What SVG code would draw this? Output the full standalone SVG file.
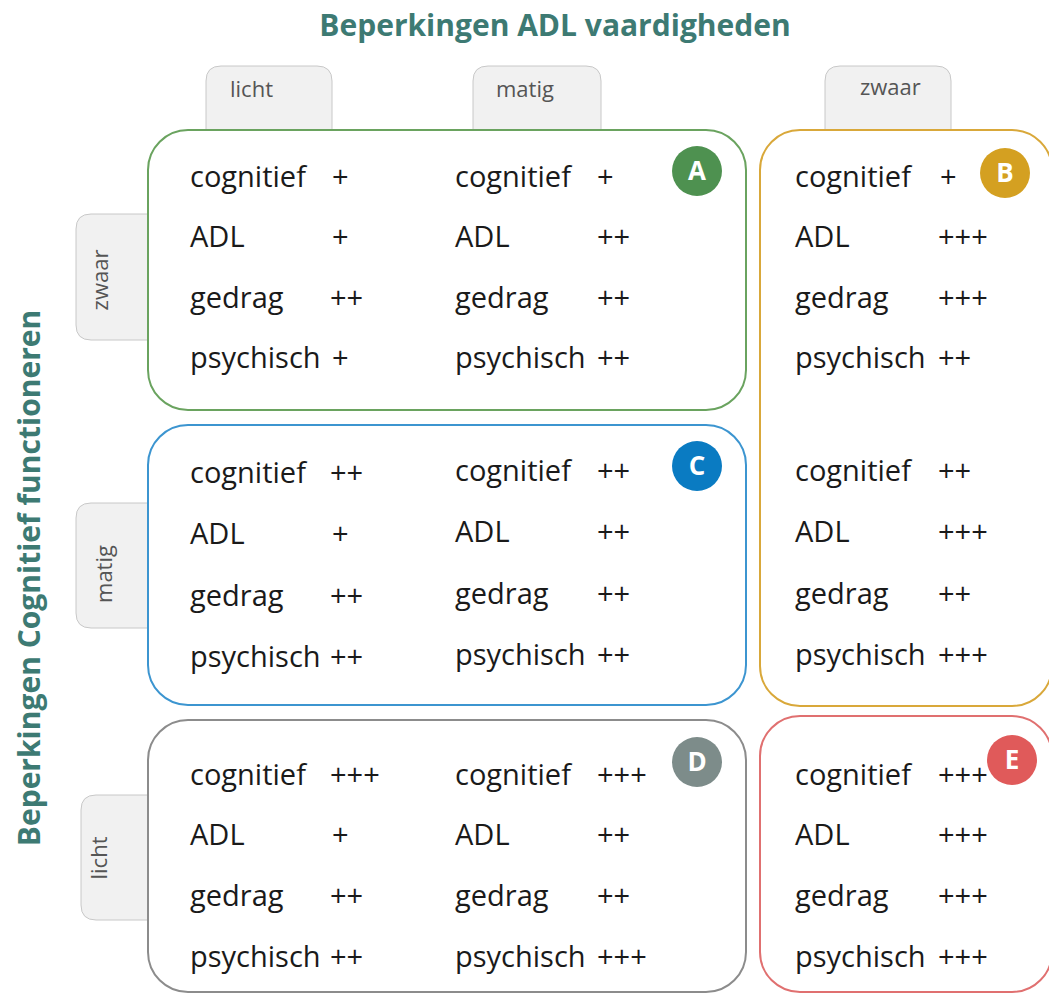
<svg xmlns="http://www.w3.org/2000/svg" width="1049" height="994" viewBox="0 0 1049 994">
<style>
.title{font-family:"Open Sans","Noto Sans",sans-serif;font-weight:bold;font-size:30px;fill:#3d7a73}
.tab{fill:#f1f1f1;stroke:#c8c8c8;stroke-width:1}
.tabt{font-family:"Open Sans","Noto Sans",sans-serif;font-size:22px;fill:#555}
.box{fill:#fff;stroke-width:2}
.t{font-family:"Open Sans","Noto Sans",sans-serif;font-size:29px;fill:#1a1a1a}
.bt{font-family:"Open Sans","Noto Sans",sans-serif;font-weight:bold;font-size:26px;fill:#fff;text-anchor:middle}
</style>
<rect width="1049" height="994" fill="#fff"/>
<text class="title" x="555" y="36" text-anchor="middle">Beperkingen ADL vaardigheden</text>
<text class="title" transform="translate(40 578) rotate(-90)" text-anchor="middle">Beperkingen Cognitief functioneren</text>

<g id="tab-top-licht"><path class="tab" d="M206 132 V81 Q206 66 221 66 H317 Q332 66 332 81 V132"/><text class="tabt" x="230" y="97">licht</text></g>
<g id="tab-top-matig"><path class="tab" d="M473 132 V81 Q473 66 488 66 H586 Q601 66 601 81 V132"/><text class="tabt" x="496" y="97">matig</text></g>
<g id="tab-top-zwaar"><path class="tab" d="M825 132 V81 Q825 66 840 66 H936 Q951 66 951 81 V132"/><text class="tabt" x="860" y="95">zwaar</text></g>
<g id="tab-side-zwaar"><path class="tab" d="M150 214 H91 Q76 214 76 229 V325 Q76 340 91 340 H150"/><text class="tabt" transform="translate(108 280) rotate(-90)" text-anchor="middle">zwaar</text></g>
<g id="tab-side-matig"><path class="tab" d="M150 503 H91 Q76 503 76 518 V613 Q76 628 91 628 H150"/><text class="tabt" transform="translate(112 574) rotate(-90)" text-anchor="middle">matig</text></g>
<g id="tab-side-licht"><path class="tab" d="M150 795 H96 Q81 795 81 810 V905 Q81 920 96 920 H150"/><text class="tabt" transform="translate(107 858) rotate(-90)" text-anchor="middle">licht</text></g>

<g id="box-A">
<rect class="box" x="148" y="130" width="598" height="280" rx="40" stroke="#6aa35f"/>
<circle cx="697" cy="171" r="25" fill="#4e9150"/><text class="bt" x="697" y="180">A</text>
<text class="t" x="190" y="187">cognitief</text><text class="t" x="332" y="187">+</text>
<text class="t" x="190" y="247">ADL</text><text class="t" x="332" y="247">+</text>
<text class="t" x="190" y="308">gedrag</text><text class="t" x="330" y="308">++</text>
<text class="t" x="190" y="368">psychisch</text><text class="t" x="332" y="368">+</text>
<text class="t" x="455" y="187">cognitief</text><text class="t" x="597" y="187">+</text>
<text class="t" x="455" y="247">ADL</text><text class="t" x="597" y="247">++</text>
<text class="t" x="455" y="308">gedrag</text><text class="t" x="597" y="308">++</text>
<text class="t" x="455" y="368">psychisch</text><text class="t" x="597" y="368">++</text>
</g>

<g id="box-C">
<rect class="box" x="148" y="425" width="598" height="280" rx="40" stroke="#3c95d0"/>
<circle cx="697" cy="466" r="25" fill="#0a7bc2"/><text class="bt" x="697" y="475">C</text>
<text class="t" x="190" y="483">cognitief</text><text class="t" x="330" y="483">++</text>
<text class="t" x="190" y="544">ADL</text><text class="t" x="332" y="544">+</text>
<text class="t" x="190" y="606">gedrag</text><text class="t" x="330" y="606">++</text>
<text class="t" x="190" y="667">psychisch</text><text class="t" x="330" y="667">++</text>
<text class="t" x="455" y="481">cognitief</text><text class="t" x="597" y="481">++</text>
<text class="t" x="455" y="542">ADL</text><text class="t" x="597" y="542">++</text>
<text class="t" x="455" y="604">gedrag</text><text class="t" x="597" y="604">++</text>
<text class="t" x="455" y="665">psychisch</text><text class="t" x="597" y="665">++</text>
</g>

<g id="box-D">
<rect class="box" x="148" y="720" width="598" height="272" rx="40" stroke="#8c8c8c"/>
<circle cx="697" cy="762" r="25" fill="#7d8c8a"/><text class="bt" x="697" y="771">D</text>
<text class="t" x="190" y="785">cognitief</text><text class="t" x="330" y="785">+++</text>
<text class="t" x="190" y="845">ADL</text><text class="t" x="332" y="845">+</text>
<text class="t" x="190" y="906">gedrag</text><text class="t" x="330" y="906">++</text>
<text class="t" x="190" y="967">psychisch</text><text class="t" x="330" y="967">++</text>
<text class="t" x="455" y="785">cognitief</text><text class="t" x="597" y="785">+++</text>
<text class="t" x="455" y="845">ADL</text><text class="t" x="597" y="845">++</text>
<text class="t" x="455" y="906">gedrag</text><text class="t" x="597" y="906">++</text>
<text class="t" x="455" y="967">psychisch</text><text class="t" x="597" y="967">+++</text>
</g>

<g id="box-B">
<rect class="box" x="760" y="130" width="292" height="576" rx="40" stroke="#d9a83a"/>
<circle cx="1005" cy="173" r="25" fill="#d4a021"/><text class="bt" x="1005" y="182">B</text>
<text class="t" x="795" y="187">cognitief</text><text class="t" x="940" y="187">+</text>
<text class="t" x="795" y="247">ADL</text><text class="t" x="938" y="247">+++</text>
<text class="t" x="795" y="308">gedrag</text><text class="t" x="938" y="308">+++</text>
<text class="t" x="795" y="368">psychisch</text><text class="t" x="938" y="368">++</text>
<text class="t" x="795" y="481">cognitief</text><text class="t" x="938" y="481">++</text>
<text class="t" x="795" y="542">ADL</text><text class="t" x="938" y="542">+++</text>
<text class="t" x="795" y="604">gedrag</text><text class="t" x="938" y="604">++</text>
<text class="t" x="795" y="665">psychisch</text><text class="t" x="938" y="665">+++</text>
</g>

<g id="box-E">
<rect class="box" x="760" y="716" width="292" height="276" rx="40" stroke="#e07070"/>
<text class="t" x="795" y="785">cognitief</text><text class="t" x="938" y="785">+++</text>
<circle cx="1012" cy="760" r="25" fill="#e05a5a"/><text class="bt" x="1012" y="769">E</text>
<text class="t" x="795" y="845">ADL</text><text class="t" x="938" y="845">+++</text>
<text class="t" x="795" y="906">gedrag</text><text class="t" x="938" y="906">+++</text>
<text class="t" x="795" y="967">psychisch</text><text class="t" x="938" y="967">+++</text>
</g>

<g id="connectors"/>
</svg>
